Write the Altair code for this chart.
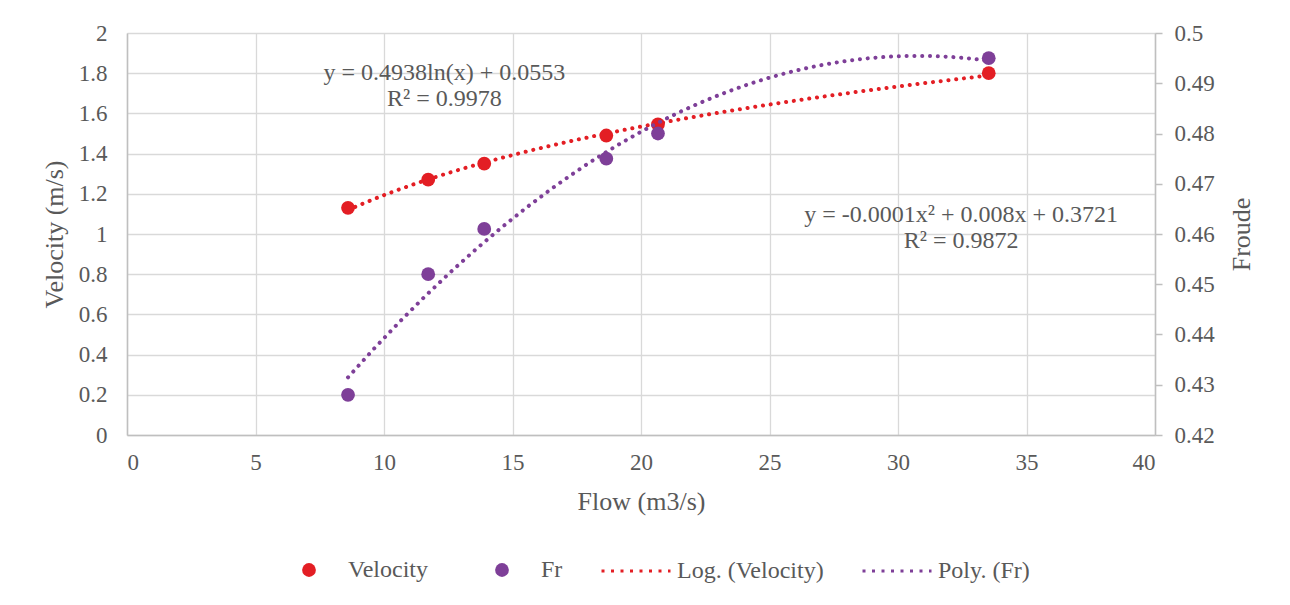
import altair as alt
import pandas as pd

# ---- data ----
flow = [8.6, 11.72, 13.9, 18.65, 20.66, 33.53]
velocity = [1.13, 1.27, 1.35, 1.49, 1.545, 1.80]
froude = [0.428, 0.452, 0.461, 0.475, 0.480, 0.495]

x_ticks = [0, 5, 10, 15, 20, 25, 30, 35, 40]
v_ticks = [0, 0.2, 0.4, 0.6, 0.8, 1.0, 1.2, 1.4, 1.6, 1.8, 2.0]
fr_ticks = [0.42, 0.43, 0.44, 0.45, 0.46, 0.47, 0.48, 0.49, 0.50]

eq_labels = ["y = 0.4938ln(x) + 0.0553", "R² = 0.9978",
             "y = -0.0001x² + 0.008x + 0.3721", "R² = 0.9872"]
eq_flow = [12.35, 12.35, 32.46, 32.46]
eq_vel = [1.765, 1.639, 1.058, 0.932]

series_names = ["Velocity", "Fr"]
trend_names = ["Log. (Velocity)", "Poly. (Fr)"]

RED = "#E31E24"
PURPLE = "#7E3F98"
GREY = "#595959"
FONT = "Liberation Serif"

df = pd.DataFrame({"Flow": flow, "Velocity": velocity, "Fr": froude})
ann = pd.DataFrame({"Flow": eq_flow, "Velocity": eq_vel, "label": eq_labels})

X = alt.X("Flow:Q", scale=alt.Scale(domain=[0, 40], nice=False, zero=False),
          axis=alt.Axis(values=x_ticks, title="Flow (m3/s)", ticks=False,
                        labelPadding=16, titlePadding=14))

Yv = alt.Y("Velocity:Q", scale=alt.Scale(domain=[0, 2], nice=False),
           axis=alt.Axis(values=v_ticks, format=".1~f", orient="left",
                         title="Velocity (m/s)", ticks=False, labelPadding=20,
                         titlePadding=11))

Yf = alt.Y("Fr:Q", scale=alt.Scale(domain=[0.42, 0.5], nice=False, zero=False),
           axis=alt.Axis(values=fr_ticks, format=".2~f", orient="right",
                         title="Froude", titleAngle=270, ticks=True, tickSize=7,
                         labelPadding=12, titlePadding=40, grid=False))

fill_legend = alt.Legend(orient="none", legendX=170, legendY=525, direction="horizontal",
                         title=None, symbolType="circle", symbolSize=190,
                         symbolStrokeWidth=0, labelOffset=27, columnPadding=62,
                         labelFont=FONT, labelFontSize=24, labelColor=GREY,
                         symbolOpacity=1)
stroke_legend = alt.Legend(orient="none", legendX=473, legendY=502, direction="horizontal",
                           title=None, symbolType="stroke", symbolSize=4761,
                           symbolStrokeWidth=3, symbolDash=[3, 6.5], labelOffset=5,
                           columnPadding=32, labelFont=FONT, labelFontSize=24,
                           labelColor=GREY)

fill_scale = alt.Scale(domain=series_names, range=[RED, PURPLE])
stroke_scale = alt.Scale(domain=trend_names, range=[RED, PURPLE])

base = alt.Chart(df)

vel_line = base.transform_regression("Flow", "Velocity", method="log").transform_calculate(
    trend='"Log. (Velocity)"'
).mark_line(strokeDash=[0.1, 7.7], strokeCap="round", strokeWidth=4).encode(
    x=X, y=Yv, stroke=alt.Stroke("trend:N", scale=stroke_scale, legend=stroke_legend)
)
vel_pts = base.transform_calculate(series='"Velocity"').mark_circle(size=190, opacity=1).encode(
    x=X, y=Yv, fill=alt.Fill("series:N", scale=fill_scale, legend=fill_legend)
)
eq_text = alt.Chart(ann).mark_text(font=FONT, fontSize=24, color=GREY, align="center",
                                   baseline="alphabetic").encode(
    x=alt.X("Flow:Q"), y=alt.Y("Velocity:Q"), text="label:N"
)

fr_line = base.transform_regression("Flow", "Fr", method="poly", order=2).transform_calculate(
    trend='"Poly. (Fr)"'
).mark_line(strokeDash=[0.1, 7.7], strokeCap="round", strokeWidth=4).encode(
    x=X, y=Yf, stroke=alt.Stroke("trend:N", scale=stroke_scale, legend=stroke_legend)
)
fr_pts = base.transform_calculate(series='"Fr"').mark_circle(size=190, opacity=1).encode(
    x=X, y=Yf, fill=alt.Fill("series:N", scale=fill_scale, legend=fill_legend)
)

vel_layer = alt.layer(vel_line, eq_text, vel_pts)
fr_layer = alt.layer(fr_line, fr_pts)

chart = alt.layer(vel_layer, fr_layer).resolve_scale(y="independent").properties(
    width=1028, height=402,
    autosize=alt.AutoSizeParams(type="none"),
    padding={"left": 119, "top": 25, "right": 127, "bottom": 160},
    background="white",
).configure(font=FONT).configure_view(stroke=None).configure_axis(
    labelFont=FONT, labelFontSize=23, labelColor=GREY,
    titleFont=FONT, titleFontSize=26, titleColor=GREY, titleFontWeight="normal",
    gridColor="#D9D9D9", gridWidth=1.3, domainColor="#BFBFBF", domainWidth=1.5,
    tickColor="#BFBFBF", tickWidth=1.5
).configure_legend(labelFont=FONT)

chart.save("out.html", embed_options={"renderer": "svg", "actions": False})
